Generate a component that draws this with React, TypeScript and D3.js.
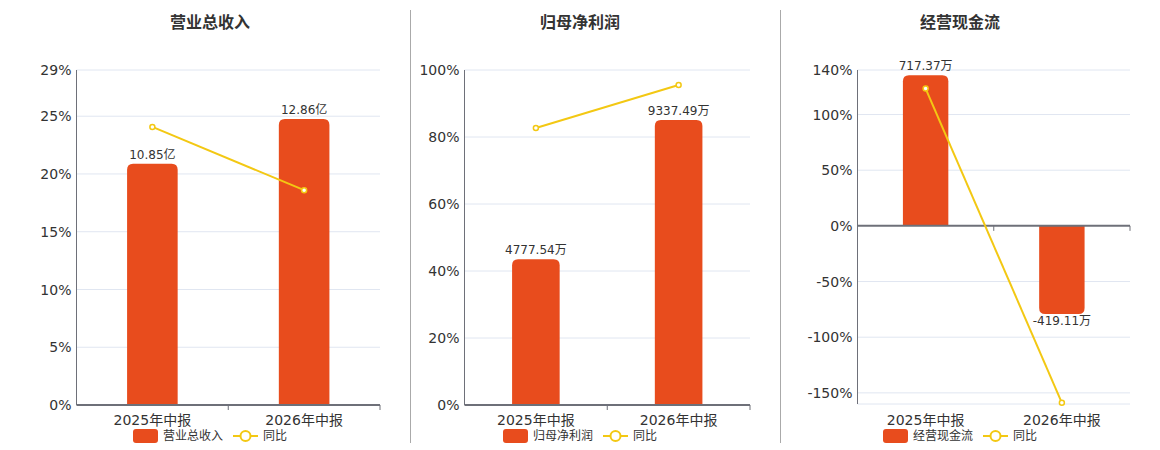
import * as d3 from "d3"

const categories = ["2025年中报", "2026年中报"]

const revenueValues = [10.85, 12.86]
const revenueLabels = ["10.85亿", "12.86亿"]
const revenueYoY = [24.07, 18.6]
const revenueTicks = [0, 5, 10, 15, 20, 25, 29]

const profitValues = [4777.54, 9337.49]
const profitLabels = ["4777.54万", "9337.49万"]
const profitYoY = [82.7, 95.5]
const profitTicks = [0, 20, 40, 60, 80, 100]

const cashValues = [717.37, -419.11]
const cashLabels = ["717.37万", "-419.11万"]
const cashYoY = [123.3, -158.9]
const cashTicks = [-150, -100, -50, 0, 50, 100, 140]

const BAR = "#e84c1d"
const LINE = "#f3c813"
const AXIS = "#6e7079"
const GRID = "#e0e6f1"
const TEXT = "#333"
const FONT = "'DejaVu Sans', 'Noto Sans CJK SC', sans-serif"

type PanelProps = {
  title: string
  values: number[]
  labels: string[]
  yoy: number[]
  ticks: number[]
  pctDomain: [number, number]
  barDomain: [number, number]
  left: number
  right: number
  top: number
  bottom: number
  center: number
}

// bar with rounded corners on the end away from zero
function barPath(x: number, w: number, y0: number, y1: number, r: number) {
  const up = y1 < y0
  const h = Math.abs(y1 - y0)
  const rr = Math.min(r, h / 2, w / 2)
  if (up) {
    return `M${x},${y0}V${y1 + rr}Q${x},${y1} ${x + rr},${y1}H${x + w - rr}Q${x + w},${y1} ${x + w},${y1 + rr}V${y0}Z`
  }
  return `M${x},${y0}V${y1 - rr}Q${x},${y1} ${x + rr},${y1}H${x + w - rr}Q${x + w},${y1} ${x + w},${y1 - rr}V${y0}Z`
}

function Panel(p: PanelProps) {
  const x = d3.scaleBand<string>().domain(categories).range([p.left, p.right])
  const yPct = d3.scaleLinear().domain(p.pctDomain).range([p.bottom, p.top])
  const yBar = d3.scaleLinear().domain(p.barDomain).range([p.bottom, p.top])
  const zeroY = yPct(0)
  const bw = x.bandwidth() / 3

  const line = d3
    .line<number>()
    .x((_, i) => (x(categories[i]) ?? 0) + x.bandwidth() / 2)
    .y((d) => yPct(d))

  const gridVals = [...p.ticks.filter((t) => t !== 0)]
  if (p.pctDomain[0] < 0) gridVals.push(p.pctDomain[0])

  const lx = p.center - 77

  return (
    <g>
      <text x={p.center} y={28} textAnchor="middle" fontSize={16} fontWeight="bold" fill={TEXT}>
        {p.title}
      </text>

      {gridVals.map((t) => (
        <line key={t} x1={p.left} x2={p.right} y1={yPct(t)} y2={yPct(t)} stroke={GRID} strokeWidth={1} />
      ))}

      {p.ticks.map((t) => (
        <text key={t} x={p.left - 5} y={yPct(t)} dy="0.36em" textAnchor="end" fontSize={14} fill={TEXT}>
          {t}%
        </text>
      ))}

      <line x1={p.left} x2={p.left} y1={p.top} y2={p.bottom} stroke={AXIS} strokeWidth={1} />

      {p.values.map((v, i) => {
        const bx = (x(categories[i]) ?? 0) + x.bandwidth() / 2 - bw / 2
        const by = yBar(v)
        const y0 = yBar(0)
        return (
          <g key={i}>
            <path d={barPath(bx, bw, y0, by, 6)} fill={BAR} />
            <text
              x={bx + bw / 2}
              y={v >= 0 ? by - 9 : by + 7}
              dy="0.36em"
              textAnchor="middle"
              fontSize={12}
              fill={TEXT}
            >
              {p.labels[i]}
            </text>
          </g>
        )
      })}

      <line x1={p.left} x2={p.right} y1={zeroY} y2={zeroY} stroke={AXIS} strokeWidth={2} />
      {[x.bandwidth(), x.bandwidth() * 2].map((o) => (
        <line key={o} x1={p.left + o} x2={p.left + o} y1={zeroY} y2={zeroY + 5} stroke={AXIS} strokeWidth={1} />
      ))}

      {categories.map((c) => (
        <text key={c} x={(x(c) ?? 0) + x.bandwidth() / 2} y={420} dy="0.36em" textAnchor="middle" fontSize={14} fill={TEXT}>
          {c}
        </text>
      ))}

      <path d={line(p.yoy) ?? ""} fill="none" stroke={LINE} strokeWidth={2} />
      {p.yoy.map((v, i) => (
        <circle
          key={i}
          cx={(x(categories[i]) ?? 0) + x.bandwidth() / 2}
          cy={yPct(v)}
          r={2.5}
          fill="#fff"
          stroke={LINE}
          strokeWidth={1.5}
        />
      ))}

      <g>
        <rect x={lx} y={429} width={25} height={14} rx={3} fill={BAR} />
        <text x={lx + 30} y={436} dy="0.36em" fontSize={12} fill={TEXT}>
          {p.title}
        </text>
        <line x1={lx + 100} x2={lx + 125} y1={436} y2={436} stroke={LINE} strokeWidth={2} />
        <circle cx={lx + 112.5} cy={436} r={5} fill="#fff" stroke={LINE} strokeWidth={2} />
        <text x={lx + 130} y={436} dy="0.36em" fontSize={12} fill={TEXT}>
          同比
        </text>
      </g>
    </g>
  )
}

export default function App() {
  return (
    <div style={{ position: "absolute", left: 0, top: 0 }}>
      <svg width={1160} height={450} viewBox="0 0 1160 450" style={{ display: "block", fontFamily: FONT }}>
        <rect width={1160} height={450} fill="#fff" />
        <Panel
          title="营业总收入"
          values={revenueValues}
          labels={revenueLabels}
          yoy={revenueYoY}
          ticks={revenueTicks}
          pctDomain={[0, 29]}
          barDomain={[0, 15.06]}
          left={76.5}
          right={380}
          top={70}
          bottom={405}
          center={210}
        />
        <Panel
          title="归母净利润"
          values={profitValues}
          labels={profitLabels}
          yoy={profitYoY}
          ticks={profitTicks}
          pctDomain={[0, 100]}
          barDomain={[0, 10973]}
          left={464.5}
          right={750}
          top={70}
          bottom={405}
          center={580}
        />
        <Panel
          title="经营现金流"
          values={cashValues}
          labels={cashLabels}
          yoy={cashYoY}
          ticks={cashTicks}
          pctDomain={[-160, 140]}
          barDomain={[-848, 742]}
          left={857.5}
          right={1130}
          top={70}
          bottom={404}
          center={960}
        />
        <line x1={410.5} x2={410.5} y1={10} y2={443} stroke="#aaa" strokeWidth={1} />
        <line x1={780.5} x2={780.5} y1={10} y2={443} stroke="#aaa" strokeWidth={1} />
      </svg>
    </div>
  )
}
